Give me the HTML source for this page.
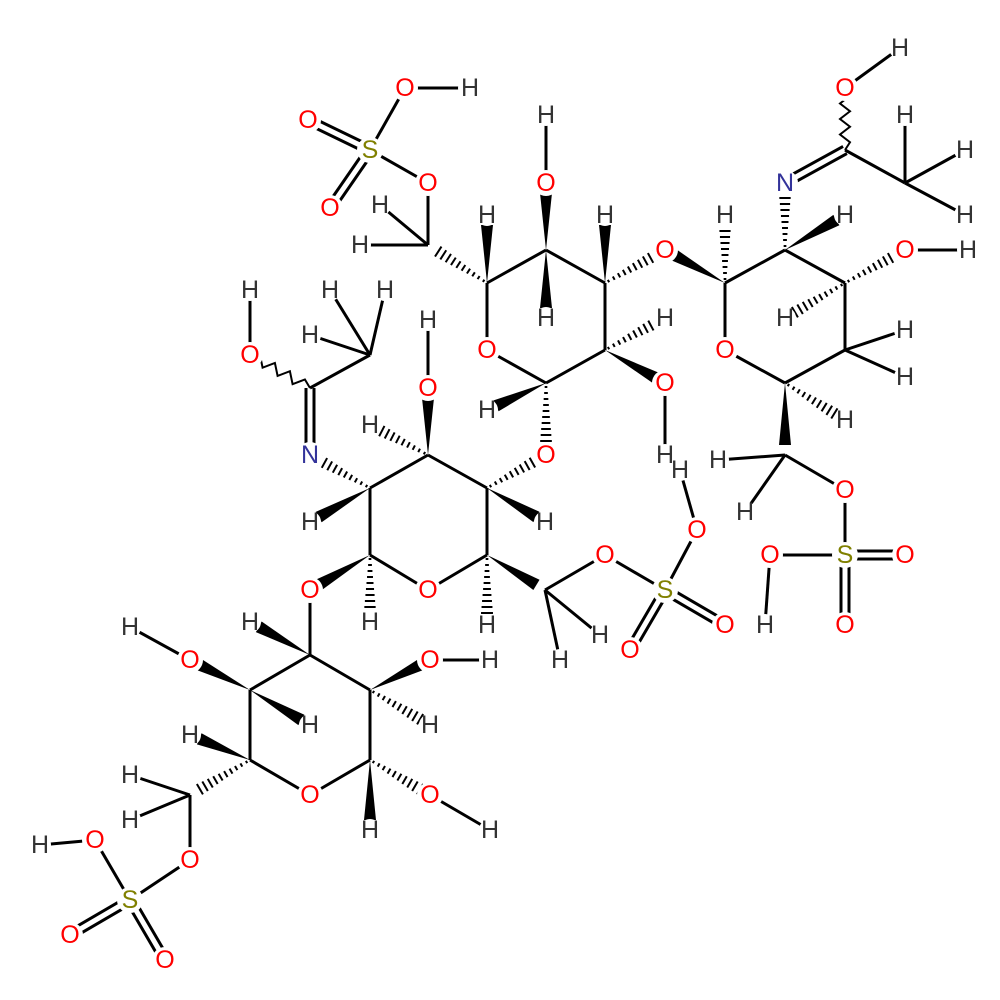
<!DOCTYPE html>
<html><head><meta charset="utf-8"><style>
html,body{margin:0;padding:0;background:#fff}
svg{display:block}
text{font-family:"Liberation Sans",sans-serif;font-size:25px;text-anchor:middle;dominant-baseline:central}
.O{fill:#ff0000}.N{fill:#33339a}.S{fill:#808000}.H{fill:#333}
</style></head><body>
<svg id="s" width="1000" height="1000" viewBox="0 0 1000 1000">
<g id="b"></g>
<g id="lab">
<g fill="#fff">
<circle cx="370" cy="150" r="13"/><circle cx="308" cy="120" r="13"/><circle cx="330" cy="208" r="13"/><circle cx="405" cy="88" r="13"/><circle cx="470" cy="88" r="12"/><circle cx="428" cy="183" r="13"/><circle cx="380" cy="205" r="11"/><circle cx="360" cy="245" r="11"/>
<circle cx="487" cy="350" r="13"/><circle cx="546" cy="183" r="13"/><circle cx="546" cy="115" r="11"/><circle cx="546" cy="318" r="11"/><circle cx="487" cy="215" r="11"/><circle cx="605" cy="215" r="11"/><circle cx="665" cy="250" r="13"/><circle cx="665" cy="318" r="11"/><circle cx="665" cy="383" r="13"/><circle cx="665" cy="455" r="11"/><circle cx="487" cy="410" r="11"/><circle cx="546" cy="455" r="13"/>
<circle cx="725" cy="350" r="13"/><circle cx="725" cy="215" r="11"/><circle cx="785" cy="183" r="13"/><circle cx="845" cy="88" r="13"/><circle cx="900" cy="48" r="11"/><circle cx="905" cy="115" r="11"/><circle cx="965" cy="150" r="11"/><circle cx="965" cy="215" r="11"/><circle cx="845" cy="215" r="11"/><circle cx="905" cy="250" r="13"/><circle cx="968" cy="250" r="11"/><circle cx="785" cy="318" r="11"/><circle cx="905" cy="330" r="11"/><circle cx="905" cy="377" r="11"/><circle cx="845" cy="420" r="11"/><circle cx="718" cy="460" r="11"/><circle cx="745" cy="512" r="11"/><circle cx="845" cy="490" r="13"/><circle cx="845" cy="555" r="13"/><circle cx="905" cy="555" r="13"/><circle cx="845" cy="625" r="13"/><circle cx="770" cy="555" r="13"/><circle cx="765" cy="625" r="11"/>
<circle cx="428" cy="590" r="13"/><circle cx="428" cy="388" r="13"/><circle cx="428" cy="320" r="11"/><circle cx="370" cy="425" r="11"/><circle cx="310" cy="455" r="13"/><circle cx="250" cy="355" r="13"/><circle cx="250" cy="290" r="11"/><circle cx="310" cy="335" r="11"/><circle cx="330" cy="290" r="11"/><circle cx="385" cy="290" r="11"/><circle cx="310" cy="522" r="11"/><circle cx="545" cy="522" r="11"/><circle cx="487" cy="625" r="11"/><circle cx="600" cy="635" r="11"/><circle cx="560" cy="660" r="11"/><circle cx="605" cy="555" r="13"/><circle cx="665" cy="590" r="13"/><circle cx="697" cy="530" r="13"/><circle cx="680" cy="470" r="11"/><circle cx="725" cy="625" r="13"/><circle cx="630" cy="650" r="13"/><circle cx="310" cy="590" r="13"/><circle cx="370" cy="622" r="11"/>
<circle cx="310" cy="795" r="13"/><circle cx="250" cy="622" r="11"/><circle cx="430" cy="660" r="13"/><circle cx="490" cy="660" r="11"/><circle cx="430" cy="725" r="11"/><circle cx="430" cy="795" r="13"/><circle cx="490" cy="830" r="11"/><circle cx="370" cy="830" r="11"/><circle cx="190" cy="660" r="13"/><circle cx="130" cy="627" r="11"/><circle cx="310" cy="725" r="11"/><circle cx="190" cy="735" r="11"/><circle cx="130" cy="775" r="11"/><circle cx="130" cy="820" r="11"/><circle cx="190" cy="860" r="13"/><circle cx="130" cy="900" r="13"/><circle cx="95" cy="840" r="13"/><circle cx="40" cy="845" r="11"/><circle cx="70" cy="935" r="13"/><circle cx="165" cy="960" r="13"/>
</g>
<text x="370" y="150" class="S">S</text><text x="308" y="120" class="O">O</text><text x="330" y="208" class="O">O</text><text x="405" y="88" class="O">O</text><text x="470" y="88" class="H">H</text><text x="428" y="183" class="O">O</text><text x="380" y="205" class="H">H</text><text x="360" y="245" class="H">H</text>
<text x="487" y="350" class="O">O</text><text x="546" y="183" class="O">O</text><text x="546" y="115" class="H">H</text><text x="546" y="318" class="H">H</text><text x="487" y="215" class="H">H</text><text x="605" y="215" class="H">H</text><text x="665" y="250" class="O">O</text><text x="665" y="318" class="H">H</text><text x="665" y="383" class="O">O</text><text x="665" y="455" class="H">H</text><text x="487" y="410" class="H">H</text><text x="546" y="455" class="O">O</text>
<text x="725" y="350" class="O">O</text><text x="725" y="215" class="H">H</text><text x="785" y="183" class="N">N</text><text x="845" y="88" class="O">O</text><text x="900" y="48" class="H">H</text><text x="905" y="115" class="H">H</text><text x="965" y="150" class="H">H</text><text x="965" y="215" class="H">H</text><text x="845" y="215" class="H">H</text><text x="905" y="250" class="O">O</text><text x="968" y="250" class="H">H</text><text x="785" y="318" class="H">H</text><text x="905" y="330" class="H">H</text><text x="905" y="377" class="H">H</text><text x="845" y="420" class="H">H</text><text x="718" y="460" class="H">H</text><text x="745" y="512" class="H">H</text><text x="845" y="490" class="O">O</text><text x="845" y="555" class="S">S</text><text x="905" y="555" class="O">O</text><text x="845" y="625" class="O">O</text><text x="770" y="555" class="O">O</text><text x="765" y="625" class="H">H</text>
<text x="428" y="590" class="O">O</text><text x="428" y="388" class="O">O</text><text x="428" y="320" class="H">H</text><text x="370" y="425" class="H">H</text><text x="310" y="455" class="N">N</text><text x="250" y="355" class="O">O</text><text x="250" y="290" class="H">H</text><text x="310" y="335" class="H">H</text><text x="330" y="290" class="H">H</text><text x="385" y="290" class="H">H</text><text x="310" y="522" class="H">H</text><text x="545" y="522" class="H">H</text><text x="487" y="625" class="H">H</text><text x="600" y="635" class="H">H</text><text x="560" y="660" class="H">H</text><text x="605" y="555" class="O">O</text><text x="665" y="590" class="S">S</text><text x="697" y="530" class="O">O</text><text x="680" y="470" class="H">H</text><text x="725" y="625" class="O">O</text><text x="630" y="650" class="O">O</text><text x="310" y="590" class="O">O</text><text x="370" y="622" class="H">H</text>
<text x="310" y="795" class="O">O</text><text x="250" y="622" class="H">H</text><text x="430" y="660" class="O">O</text><text x="490" y="660" class="H">H</text><text x="430" y="725" class="H">H</text><text x="430" y="795" class="O">O</text><text x="490" y="830" class="H">H</text><text x="370" y="830" class="H">H</text><text x="190" y="660" class="O">O</text><text x="130" y="627" class="H">H</text><text x="310" y="725" class="H">H</text><text x="190" y="735" class="H">H</text><text x="130" y="775" class="H">H</text><text x="130" y="820" class="H">H</text><text x="190" y="860" class="O">O</text><text x="130" y="900" class="S">S</text><text x="95" y="840" class="O">O</text><text x="40" y="845" class="H">H</text><text x="70" y="935" class="O">O</text><text x="165" y="960" class="O">O</text>
</g>
</svg>
<script>
(function(){
var g=document.getElementById('b'),NS='http://www.w3.org/2000/svg';
function el(t,a){var e=document.createElementNS(NS,t);for(var k in a)e.setAttribute(k,a[k]);g.appendChild(e);return e;}
function L(a,b,c,d){el('line',{x1:a,y1:b,x2:c,y2:d,stroke:'#000','stroke-width':3});}
function D(a,b,c,d){var dx=c-a,dy=d-b,l=Math.hypot(dx,dy),nx=-dy/l*4,ny=dx/l*4;L(a+nx,b+ny,c+nx,d+ny);L(a-nx,b-ny,c-nx,d-ny);}
function W(a,b,c,d){var dx=c-a,dy=d-b,l=Math.hypot(dx,dy),nx=-dy/l*6,ny=dx/l*6;var ex=c-dx/l*10,ey=d-dy/l*10;el('polygon',{points:a+','+b+' '+(ex+nx)+','+(ey+ny)+' '+(ex-nx)+','+(ey-ny),fill:'#000'});}
function Hs(a,b,c,d){var dx=c-a,dy=d-b,l=Math.hypot(dx,dy),ux=dx/l,uy=dy/l;for(var t=4;t<l-10;t+=6){var w=1+6*t/l;el('line',{x1:a+ux*t-uy*w,y1:b+uy*t+ux*w,x2:a+ux*t+uy*w,y2:b+uy*t-ux*w,stroke:'#000','stroke-width':2});}}
function V(a,b,c,d){var dx=c-a,dy=d-b,l=Math.hypot(dx,dy),ux=dx/l,uy=dy/l,p='M'+a+' '+b,n=8;for(var i=1;i<=n;i++){var t=l*i/n,s=(i%2?5:-5);if(i==n)s=0;p+=' L'+(a+ux*t-uy*s)+' '+(b+uy*t+ux*s);}el('path',{d:p,stroke:'#000','stroke-width':2,fill:'none'});}
function R(p){for(var i=0;i<p.length;i++){var q=p[(i+1)%p.length];L(p[i][0],p[i][1],q[0],q[1]);}}
D(370,150,308,120);D(370,150,330,208);L(370,150,405,88);L(405,88,470,88);L(370,150,428,183);L(428,183,428,245);L(428,245,380,205);L(428,245,360,245);Hs(487,283,428,245);
R([[487,283],[546,250],[605,283],[605,350],[546,383],[487,350]]);
W(546,250,546,183);L(546,183,546,115);W(546,250,546,318);W(487,283,487,215);W(605,283,605,215);Hs(605,283,665,250);W(725,283,665,250);
Hs(605,350,665,318);W(605,350,665,383);L(665,383,665,455);W(546,383,487,410);Hs(546,383,546,455);Hs(487,488,546,455);
R([[725,283],[785,250],[845,283],[845,350],[785,383],[725,350]]);
Hs(725,283,725,215);Hs(785,250,785,183);D(785,183,845,150);V(845,150,845,88);L(845,88,900,48);L(845,150,905,183);L(905,183,905,115);L(905,183,965,150);L(905,183,965,215);W(785,250,845,215);
Hs(845,283,905,250);L(905,250,968,250);Hs(845,283,785,318);L(845,350,905,330);L(845,350,905,377);
Hs(785,383,845,420);W(785,383,785,455);L(785,455,718,460);L(785,455,745,512);L(785,455,845,490);L(845,490,845,555);D(845,555,905,555);D(845,555,845,625);L(845,555,770,555);L(770,555,765,625);
R([[370,555],[370,488],[428,455],[487,488],[487,555],[428,590]]);
W(428,455,428,388);L(428,388,428,320);Hs(428,455,370,425);Hs(370,488,310,455);D(310,455,310,388);V(310,388,250,355);L(250,355,250,290);L(310,388,370,355);L(370,355,310,335);L(370,355,330,290);L(370,355,385,290);
W(370,488,310,522);W(487,488,545,522);Hs(487,555,487,625);W(487,555,545,590);L(545,590,600,635);L(545,590,560,660);L(545,590,605,555);L(605,555,665,590);L(665,590,697,530);L(697,530,680,470);D(665,590,725,625);D(665,590,630,650);
W(370,555,310,590);L(310,590,310,655);Hs(370,555,370,622);
R([[310,655],[370,690],[370,760],[310,795],[250,760],[250,690]]);
W(310,655,250,622);W(370,690,430,660);L(430,660,490,660);Hs(370,690,430,725);Hs(370,760,430,795);L(430,795,490,830);W(370,760,370,830);
W(250,690,190,660);L(190,660,130,627);W(250,690,310,725);W(250,760,190,735);Hs(250,760,190,795);L(190,795,130,775);L(190,795,130,820);L(190,795,190,860);L(190,860,130,900);L(130,900,95,840);L(95,840,40,845);D(130,900,70,935);D(130,900,165,960);
})();
</script>
</body></html>
